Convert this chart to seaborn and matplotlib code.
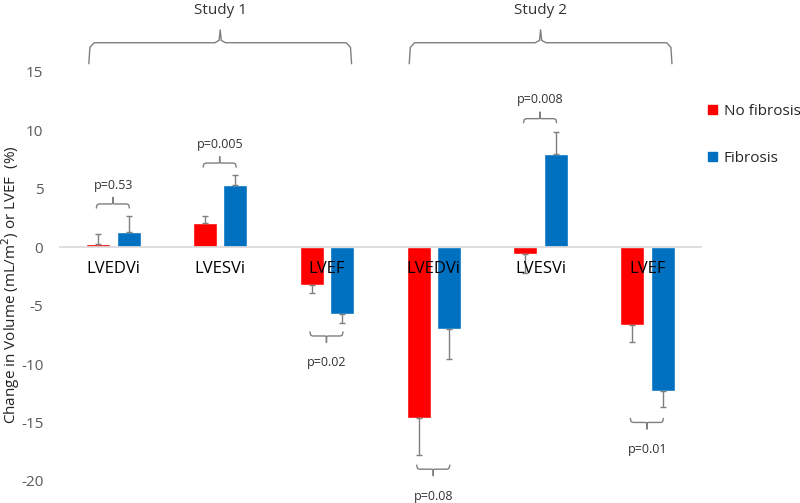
import numpy as np
import pandas as pd
import matplotlib.pyplot as plt
import seaborn as sns
from matplotlib.patches import Patch

# data
categories = ['LVEDVi', 'LVESVi', 'LVEF', 'LVEDVi ', 'LVESVi ', 'LVEF ']
tick_labels = ['LVEDVi', 'LVESVi', 'LVEF', 'LVEDVi', 'LVESVi', 'LVEF']
no_fibrosis = [0.3, 2.1, -3.2, -14.6, -0.55, -6.7]
fibrosis = [1.3, 5.3, -5.7, -7.0, 7.95, -12.3]
no_fibrosis_err = [0.8, 0.6, 0.7, 3.2, 1.7, 1.4]
fibrosis_err = [1.35, 0.85, 0.8, 2.6, 1.9, 1.4]
p_labels = ['p=0.53', 'p=0.005', 'p=0.02', 'p=0.08', 'p=0.008', 'p=0.01']
p_bracket_y = [3.7, 7.2, -7.6, -19.0, 11.0, -15.0]
studies = ['Study 1', 'Study 2']

df = pd.DataFrame({'cat': categories * 2,
                   'val': no_fibrosis + fibrosis,
                   'grp': ['No fibrosis'] * 6 + ['Fibrosis'] * 6})

sns.set_theme(style="white")
plt.rcParams['font.family'] = ['Open Sans', 'DejaVu Sans']
plt.rcParams['axes.unicode_minus'] = False
colores = ['#FF0000', '#0070C0']
fig = plt.figure(figsize=(8, 5.03), dpi=100)
ax = fig.add_axes([0.075, 0.044, 0.801, 0.813])

sns.barplot(data=df, x='cat', y='val', hue='grp', palette=colores, width=0.57, gap=0.21,
            legend=False, ax=ax, saturation=1)

# one-sided error bars
for cont, errs in zip(ax.containers, [no_fibrosis_err, fibrosis_err]):
    for bar, e in zip(cont, errs):
        xc = bar.get_x() + bar.get_width() / 2
        v = bar.get_y() + bar.get_height() if bar.get_height() >= 0 else bar.get_y()
        v = bar.get_height() if abs(bar.get_y()) < 1e-9 else v
        yerr = [[0], [e]] if v >= 0 else [[e], [0]]
        ax.errorbar(xc, v, yerr=yerr, color='#7f7f7f', lw=1, capsize=2.5, capthick=1, zorder=2)

ax.set_ylim(-20, 15)
ax.set_xlim(-0.5, 5.5)
ax.set_yticks([-20, -15, -10, -5, 0, 5, 10, 15])
ax.tick_params(axis='y', length=0, pad=12, labelsize=11, labelcolor='#595959')
ax.set_xticks(range(6))
ax.set_xticklabels(tick_labels)
ax.tick_params(axis='x', length=0, pad=10, labelsize=12, labelcolor='black')
ax.xaxis.set_zorder(5)
for s in ['top', 'right', 'left']:
    ax.spines[s].set_visible(False)
ax.spines['bottom'].set_position(('data', 0))
ax.spines['bottom'].set_color('#d9d9d9')
ax.set_xlabel('')
ax.set_ylabel('Change in Volume (mL/m$^2$) or LVEF  (%)', fontsize=11, color='#222222')
ax.yaxis.set_label_coords(-0.06, 0.48)


def bracket(x0, x1, y, h, tip, **kw):
    # small curly bracket: ends bend by h, centre tip by tip
    xc = (x0 + x1) / 2
    r = (x1 - x0) * 0.08
    xs = [x0, x0 + r * 0.3, x0 + r, xc - r * 0.5, xc, xc, xc, xc + r * 0.5, x1 - r, x1 - r * 0.3, x1]
    ys = [y - h, y - h * 0.2, y, y, y + tip * 0.1, y + tip, y + tip * 0.1, y, y, y - h * 0.2, y - h]
    ax.plot(xs, ys, color='#7f7f7f', lw=1, clip_on=False, solid_joinstyle='round')


# p-value brackets
for i, (lab, yb) in enumerate(zip(p_labels, p_bracket_y)):
    if yb > 0:
        bracket(i - 0.16, i + 0.15, yb, 0.35, 0.55)
        ax.text(i, yb + 1.6, lab, ha='center', va='center', fontsize=9, color='#333333', clip_on=False)
    else:
        bracket(i - 0.16, i + 0.15, yb, -0.35, -0.55)
        ax.text(i, yb - 2.3, lab, ha='center', va='center', fontsize=9, color='#333333', clip_on=False)

# study braces
for k, st in enumerate(studies):
    x0, x1 = 3 * k - 0.23, 3 * k + 2.23
    xc = (x0 + x1) / 2
    xs = [x0, x0 + 0.01, x0 + 0.05, xc - 0.05, xc - 0.01, xc, xc + 0.01, xc + 0.05, x1 - 0.05, x1 - 0.01, x1]
    ys = [15.7, 17.1, 17.5, 17.5, 17.7, 18.6, 17.7, 17.5, 17.5, 17.1, 15.7]
    ax.plot(xs, ys, color='#7f7f7f', lw=1, clip_on=False)
    ax.text(xc, 20.3, st, ha='center', va='center', fontsize=11, color='#333333', clip_on=False)

handles = [Patch(color=colores[0], label='No fibrosis'), Patch(color=colores[1], label='Fibrosis')]
fig.legend(handles=handles, loc='upper left', bbox_to_anchor=(0.872, 0.815), frameon=False,
           fontsize=11, handlelength=0.6, handleheight=0.6, handletextpad=0.4, labelspacing=2.1,
           borderpad=0.2)

fig.savefig('out.png', dpi=100)
